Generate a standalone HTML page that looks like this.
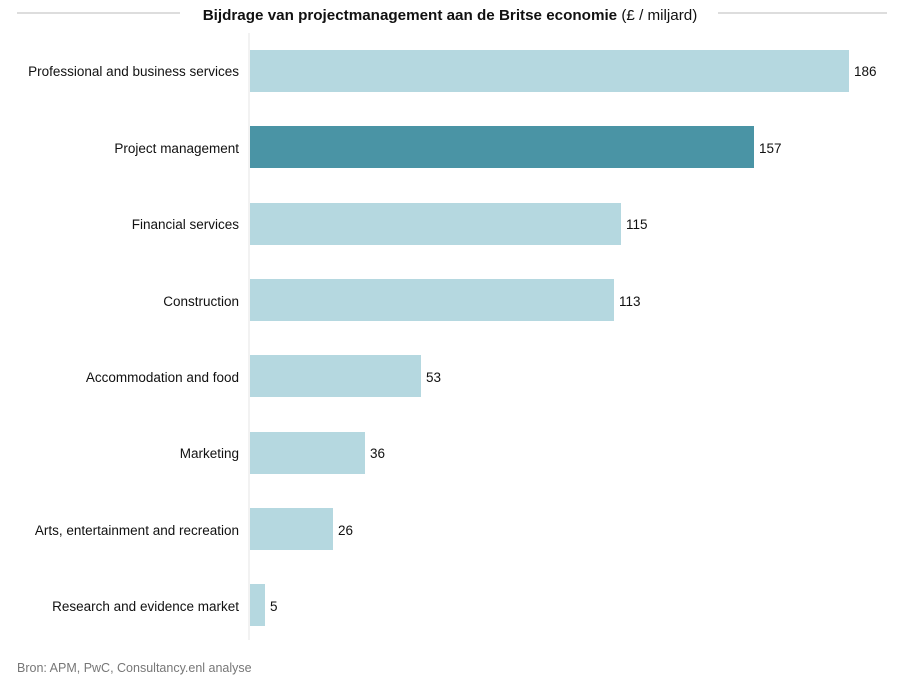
<!DOCTYPE html>
<html><head><meta charset="utf-8"><style>
body{margin:0;background:#fff;}
svg text{font-family:"Liberation Sans",sans-serif;fill:#111;}
</style></head><body>
<svg width="900" height="678" xmlns="http://www.w3.org/2000/svg">
<line x1="17" y1="13" x2="180" y2="13" stroke="#ddd" stroke-width="2"/>
<line x1="718" y1="13" x2="887" y2="13" stroke="#ddd" stroke-width="2"/>
<text x="450" y="20" text-anchor="middle" font-size="15.2"><tspan font-weight="bold">Bijdrage van projectmanagement aan de Britse economie</tspan> (£ / miljard)</text>
<line x1="249" y1="33" x2="249" y2="640" stroke="#e6e6e6" stroke-width="1"/>
<g font-size="13.5">
<rect x="250" y="50" width="599" height="42" fill="#b5d8e0"/>
<text x="239" y="76" text-anchor="end">Professional and business services</text><text x="854" y="76">186</text>
<rect x="250" y="126" width="504" height="42" fill="#4a94a5"/>
<text x="239" y="153" text-anchor="end">Project management</text><text x="759" y="153">157</text>
<rect x="250" y="203" width="371" height="42" fill="#b5d8e0"/>
<text x="239" y="229" text-anchor="end">Financial services</text><text x="626" y="229">115</text>
<rect x="250" y="279" width="364" height="42" fill="#b5d8e0"/>
<text x="239" y="306" text-anchor="end">Construction</text><text x="619" y="306">113</text>
<rect x="250" y="355" width="171" height="42" fill="#b5d8e0"/>
<text x="239" y="382" text-anchor="end">Accommodation and food</text><text x="426" y="382">53</text>
<rect x="250" y="432" width="115" height="42" fill="#b5d8e0"/>
<text x="239" y="458" text-anchor="end">Marketing</text><text x="370" y="458">36</text>
<rect x="250" y="508" width="83" height="42" fill="#b5d8e0"/>
<text x="239" y="535" text-anchor="end">Arts, entertainment and recreation</text><text x="338" y="535">26</text>
<rect x="250" y="584" width="15" height="42" fill="#b5d8e0"/>
<text x="239" y="611" text-anchor="end">Research and evidence market</text><text x="270" y="611">5</text>
</g>
<text x="17" y="672" font-size="12.5" style="fill:#777">Bron: APM, PwC, Consultancy.enl analyse</text>
</svg>
</body></html>
